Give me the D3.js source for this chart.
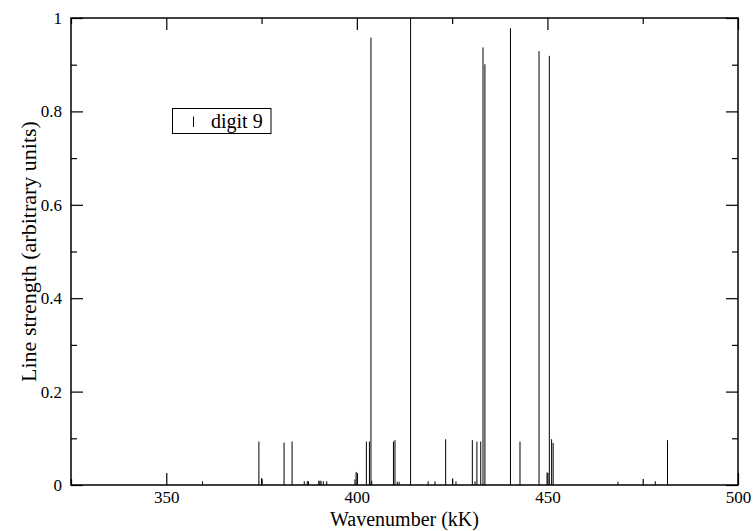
<!DOCTYPE html>
<html>
<head>
<meta charset="utf-8">
<script src="https://cdn.jsdelivr.net/npm/d3@7"></script>
<style>
  body { margin: 0; background: #fff; }
</style>
</head>
<body>
<svg id="chart" width="754" height="531"></svg>
<script>
// line positions (kK) and strengths
var wavenumbers = [359.5, 374.3, 375.0, 380.9, 383.0, 386.2, 387.0, 387.3, 390.0, 390.3,
  390.6, 391.2, 392.1, 399.5, 399.8, 402.5, 403.3, 403.7, 403.9, 409.6,
  410.0, 410.6, 411.1, 414.1, 418.7, 420.5, 423.3, 425.1, 426.0, 430.3,
  431.0, 431.5, 432.5, 433.1, 433.6, 440.3, 442.8, 447.8, 449.9, 450.5,
  451.1, 451.5, 468.5, 478.3, 481.5];
var strengths = [0.008, 0.093, 0.015, 0.091, 0.093, 0.008, 0.008, 0.008, 0.009, 0.009,
  0.009, 0.008, 0.008, 0.012, 0.028, 0.093, 0.093, 0.958, 0.009, 0.093,
  0.096, 0.007, 0.007, 1.0, 0.008, 0.008, 0.098, 0.014, 0.008, 0.096,
  0.008, 0.093, 0.093, 0.937, 0.901, 0.978, 0.093, 0.929, 0.027, 0.919,
  0.098, 0.090, 0.007, 0.008, 0.096];

var xMajor = [350, 400, 450, 500];
var xMinor = [325, 375, 425, 475];
var yMajor = [0, 0.2, 0.4, 0.6, 0.8, 1];
var yMinor = [0.1, 0.3, 0.5, 0.7, 0.9];
var legendLabel = "digit 9";

var FONT = "Liberation Serif";
var svg = d3.select("#chart");
var pLeft = 71, pRight = 738, pTop = 18, pBottom = 485;

var x = d3.scaleLinear().domain([325, 500]).range([pLeft, pRight]);
var y = d3.scaleLinear().domain([0, 1]).range([pBottom, pTop]);

var lines = wavenumbers.map(function(w, i){ return {w: w, s: strengths[i]}; });

// spikes
svg.append("g").selectAll("line")
  .data(lines)
  .enter().append("line")
  .attr("x1", function(d){ return x(d.w); })
  .attr("x2", function(d){ return x(d.w); })
  .attr("y1", y(0))
  .attr("y2", function(d){ return y(d.s); })
  .attr("stroke", "#000")
  .attr("stroke-width", 1);

// axes, ticks point inward on all four sides
function styleAxis(g){
  g.attr("font-family", FONT).attr("font-size", 17);
  g.select(".domain").remove();
  g.selectAll(".tick line").attr("stroke", "#000").attr("stroke-width", 1.2);
  g.selectAll(".tick text").attr("fill", "#000");
}

svg.append("g").attr("transform", "translate(0," + pBottom + ")")
  .call(d3.axisBottom(x).tickValues(xMajor).tickSize(-12).tickPadding(6).tickFormat(d3.format("d")))
  .call(styleAxis);
svg.append("g").attr("transform", "translate(0," + pBottom + ")")
  .call(d3.axisBottom(x).tickValues(xMinor).tickSize(-6).tickFormat(""))
  .call(styleAxis);
svg.append("g").attr("transform", "translate(0," + pTop + ")")
  .call(d3.axisTop(x).tickValues(xMajor).tickSize(-12).tickFormat(""))
  .call(styleAxis);
svg.append("g").attr("transform", "translate(0," + pTop + ")")
  .call(d3.axisTop(x).tickValues(xMinor).tickSize(-6).tickFormat(""))
  .call(styleAxis);

svg.append("g").attr("transform", "translate(" + pLeft + ",0)")
  .call(d3.axisLeft(y).tickValues(yMajor).tickSize(-12).tickPadding(9)
    .tickFormat(function(d){ return d === 0 || d === 1 ? d3.format("d")(d) : d3.format(".1f")(d); }))
  .call(styleAxis);
svg.append("g").attr("transform", "translate(" + pLeft + ",0)")
  .call(d3.axisLeft(y).tickValues(yMinor).tickSize(-6).tickFormat(""))
  .call(styleAxis);
svg.append("g").attr("transform", "translate(" + pRight + ",0)")
  .call(d3.axisRight(y).tickValues(yMajor).tickSize(-12).tickFormat(""))
  .call(styleAxis);
svg.append("g").attr("transform", "translate(" + pRight + ",0)")
  .call(d3.axisRight(y).tickValues(yMinor).tickSize(-6).tickFormat(""))
  .call(styleAxis);

// frame
svg.append("rect")
  .attr("x", pLeft).attr("y", pTop)
  .attr("width", pRight - pLeft).attr("height", pBottom - pTop)
  .attr("fill", "none").attr("stroke", "#000").attr("stroke-width", 1.5);

// titles
svg.append("text")
  .attr("x", (pLeft + pRight) / 2).attr("y", 525.5)
  .attr("text-anchor", "middle").attr("font-family", FONT).attr("font-size", 20)
  .text("Wavenumber (kK)");
svg.append("text")
  .attr("transform", "translate(36," + (pTop + pBottom) / 2 + ") rotate(-90)")
  .attr("text-anchor", "middle").attr("font-family", FONT).attr("font-size", 22)
  .text("Line strength (arbitrary units)");

// legend
var lg = svg.append("g");
lg.append("rect")
  .attr("x", 172.5).attr("y", 108.5).attr("width", 98.5).attr("height", 25)
  .attr("fill", "#fff").attr("stroke", "#000").attr("stroke-width", 1);
lg.append("line")
  .attr("x1", 193.5).attr("x2", 193.5).attr("y1", 116.5).attr("y2", 127)
  .attr("stroke", "#000").attr("stroke-width", 1);
lg.append("text")
  .attr("x", 211).attr("y", 127.5).attr("font-family", FONT).attr("font-size", 20)
  .text(legendLabel);
</script>
</body>
</html>
